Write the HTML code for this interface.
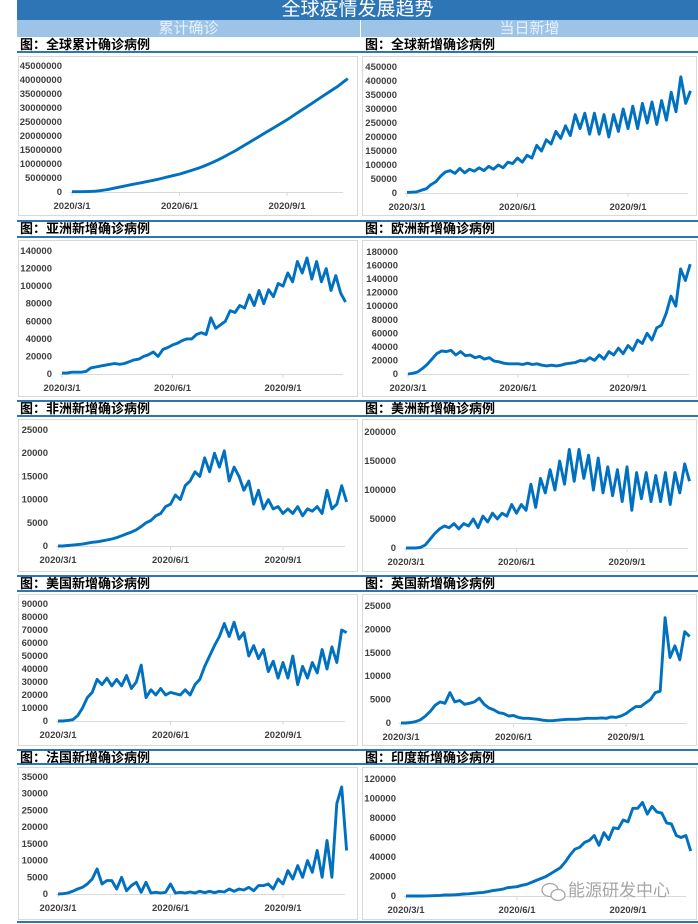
<!DOCTYPE html>
<html><head><meta charset="utf-8">
<style>
html,body{margin:0;padding:0;background:#fff;}
body{width:698px;height:924px;position:relative;overflow:hidden;font-family:"Liberation Sans","Noto Sans CJK SC",sans-serif;}
.abs{position:absolute;}
.hdr{left:17px;top:0;width:681px;height:20px;background:#2e75b6;color:#fff;font-size:19px;line-height:20px;text-align:center;font-family:"Liberation Sans","Noto Sans CJK SC",sans-serif;}
.sub{top:20px;height:17px;background:#9dc3e6;color:#e8f1fa;font-size:15px;line-height:17px;text-align:center;}
.ttl{font-size:13px;font-weight:bold;color:#000;line-height:14px;font-family:"Liberation Sans","Noto Sans CJK SC",sans-serif;}
.bl{left:17px;width:681px;height:2px;background:#2e75b6;}
.panel{border:1px solid #d9d9d9;background:#fff;box-sizing:border-box;}
</style></head>
<body>
<div class="abs hdr">全球疫情发展趋势</div>
<div class="abs sub" style="left:17px;width:343px;">累计确诊</div>
<div class="abs sub" style="left:361px;width:337px;">当日新增</div>

<div class="abs bl" style="top:51px"></div>
<div class="abs bl" style="top:220px"></div>
<div class="abs bl" style="top:236px"></div>
<div class="abs bl" style="top:400px"></div>
<div class="abs bl" style="top:415px"></div>
<div class="abs bl" style="top:575px"></div>
<div class="abs bl" style="top:590px"></div>
<div class="abs bl" style="top:749px"></div>
<div class="abs bl" style="top:763px"></div>
<div class="abs bl" style="top:921px"></div>

<div class="abs ttl" style="left:20px;top:38px">图：全球累计确诊病例</div>
<div class="abs ttl" style="left:365px;top:38px">图：全球新增确诊病例</div>
<div class="abs ttl" style="left:20px;top:222px">图：亚洲新增确诊病例</div>
<div class="abs ttl" style="left:365px;top:222px">图：欧洲新增确诊病例</div>
<div class="abs ttl" style="left:20px;top:402px">图：非洲新增确诊病例</div>
<div class="abs ttl" style="left:365px;top:402px">图：美洲新增确诊病例</div>
<div class="abs ttl" style="left:20px;top:577px">图：美国新增确诊病例</div>
<div class="abs ttl" style="left:365px;top:577px">图：英国新增确诊病例</div>
<div class="abs ttl" style="left:20px;top:751px">图：法国新增确诊病例</div>
<div class="abs ttl" style="left:365px;top:751px">图：印度新增确诊病例</div>

<div class="abs panel" style="left:18px;top:56px;width:340px;height:160px"></div>
<div class="abs panel" style="left:362px;top:56px;width:335px;height:160px"></div>
<div class="abs panel" style="left:18px;top:240px;width:340px;height:157px"></div>
<div class="abs panel" style="left:362px;top:240px;width:335px;height:157px"></div>
<div class="abs panel" style="left:18px;top:419px;width:340px;height:153px"></div>
<div class="abs panel" style="left:362px;top:419px;width:335px;height:153px"></div>
<div class="abs panel" style="left:18px;top:594px;width:340px;height:152px"></div>
<div class="abs panel" style="left:362px;top:594px;width:335px;height:152px"></div>
<div class="abs panel" style="left:18px;top:767px;width:340px;height:153px"></div>
<div class="abs panel" style="left:362px;top:767px;width:335px;height:153px"></div>

<svg id="charts" class="abs" style="left:0;top:0" width="698" height="924"></svg>

<div class="abs" style="left:540px;top:880px;color:#a6a6a6;font-size:17px;line-height:22px;font-family:'Liberation Sans','Noto Sans CJK SC',sans-serif;">
<svg width="28" height="22" style="vertical-align:middle"><ellipse cx="10" cy="9" rx="8" ry="6.5" fill="none" stroke="#a6a6a6" stroke-width="1.3"/><ellipse cx="18" cy="14" rx="7" ry="5.5" fill="#fff" stroke="#a6a6a6" stroke-width="1.3"/></svg>能源研发中心</div>

<script>
// Dates: sampled every 4 days starting 2020/3/1 (day 0)
const stepDays = 4;
const xTickLabels = ["2020/3/1","2020/6/1","2020/9/1"];
const xTickDays = [0, 92, 184];

// Values (global cumulative in millions, others in thousands)
const globalCumulative = [0.09,0.1,0.12,0.15,0.2,0.3,0.47,0.72,1.0,1.35,1.7,2.05,2.4,2.75,3.05,3.35,3.7,4.05,4.4,4.8,5.2,5.6,6.0,6.4,6.9,7.4,7.95,8.5,9.1,9.8,10.5,11.3,12.1,13.0,13.9,14.8,15.8,16.8,17.8,18.8,19.8,20.8,21.8,22.8,23.8,24.8,25.8,26.9,28.0,29.1,30.2,31.3,32.4,33.5,34.6,35.7,36.8,37.9,39.2,40.5];
const globalDaily = [2,3,4,10,15,30,40,60,75,80,70,88,72,85,78,90,80,95,85,100,90,110,105,125,110,135,125,170,150,190,175,220,195,240,205,280,230,285,210,285,210,280,200,280,220,300,230,310,230,320,250,325,245,330,260,360,290,415,320,365];
const asiaDaily = [1,1,2,2,2,3,7,8,9,10,11,12,11,12,14,16,17,20,22,25,20,28,30,33,35,38,40,40,45,47,45,64,52,56,60,72,70,78,75,90,78,95,80,96,88,103,100,115,105,128,115,132,108,128,105,120,95,112,92,82];
const europeDaily = [0,1,3,8,14,22,30,34,33,35,28,33,27,28,24,26,22,24,19,18,16,15,15,15,14,16,14,15,13,12,13,12,13,15,16,17,20,19,24,20,28,22,33,28,38,30,42,35,50,45,60,50,68,72,90,115,100,155,138,162];
const africaDaily = [0,0,0.1,0.2,0.3,0.4,0.6,0.8,0.9,1.1,1.3,1.5,1.8,2.2,2.6,3,3.5,4.2,5,5.5,6.5,7,8.5,9,11,10,13,14,16,15,19,16,20,17,20.5,14,17,15,12,14,9,12,8,10,8,8.5,7,8,7,8.5,6.5,8,7.5,8.5,7,12,8,9,13,9.5];
const americasDaily = [0,0,0,1,5,15,25,33,38,35,42,33,42,38,50,35,55,45,60,50,60,55,75,60,75,65,110,70,120,95,135,100,150,110,170,115,170,120,160,100,155,95,140,90,135,80,140,65,130,85,130,80,125,80,130,75,130,95,145,115];
const usaDaily = [0,0,0.5,1,4,10,18,22,32,28,33,27,32,27,35,25,30,43,18,24,20,25,20,22,21,20,24,20,28,32,42,50,58,65,75,65,76,63,68,50,58,48,55,38,46,33,45,33,50,28,42,33,45,37,55,40,57,45,70,68];
const ukDaily = [0,0,0.1,0.3,0.7,1.5,2.5,3.8,4.5,4.2,6.5,4.5,4.8,4,4.2,4.5,5.3,4,3.2,2.8,2.2,2,1.5,1.6,1.2,1,1,0.9,0.8,0.6,0.5,0.5,0.6,0.7,0.8,0.8,0.8,0.9,1,1,1,1.1,1,1.3,1.2,1.5,2,2.8,3.5,3.5,4.3,5,6.5,6.8,22.5,14,16.5,13.5,19.5,18.5];
const franceDaily = [0,0.1,0.3,0.8,1.5,2,3,4.5,7.5,3,4,4,1.5,5,1,2.5,3.5,0.5,3.5,0.3,0.5,0.3,0.5,3,0.3,0.5,0.3,0.6,0.3,0.8,0.4,0.8,0.4,0.8,0.6,1.5,0.8,1.5,1.2,2,1,2.5,2.5,3,1.5,4.5,3,7,4.5,8.5,5,10,6.5,13,5,16,5,27,32,13];
const indiaDaily = [0,0,0,0,0.1,0.2,0.4,0.6,1,1,1.2,1.5,2,2.3,2.8,3.3,3.7,4.5,5.5,6.3,7,8.5,9,9.5,11,12,14,16,18,20,23,26,29,35,42,48,50,55,57,62,52,65,58,70,69,78,76,90,90,96,84,92,86,85,75,74,62,60,62,46];

// Y tick labels
const ticksGlobalCum = ["0","5000000","10000000","15000000","20000000","25000000","30000000","35000000","40000000","45000000"];
const ticksGlobalDaily = ["0","50000","100000","150000","200000","250000","300000","350000","400000","450000"];
const ticksAsia = ["0","20000","40000","60000","80000","100000","120000","140000"];
const ticksEurope = ["0","20000","40000","60000","80000","100000","120000","140000","160000","180000"];
const ticksAfrica = ["0","5000","10000","15000","20000","25000"];
const ticksAmericas = ["0","50000","100000","150000","200000"];
const ticksUsa = ["0","10000","20000","30000","40000","50000","60000","70000","80000","90000"];
const ticksUk = ["0","5000","10000","15000","20000","25000"];
const ticksFrance = ["0","5000","10000","15000","20000","25000","30000","35000"];
const ticksIndia = ["0","20000","40000","60000","80000","100000","120000"];

// Layout (pixel geometry only)
const charts = [
 {name:'global-cumulative', data:globalCumulative, unit:1e6, ticks:ticksGlobalCum, x0:72, x9:287, xe:343, y0:192, yt:66},
 {name:'global-daily', data:globalDaily, unit:1e3, ticks:ticksGlobalDaily, x0:407, x9:628, xe:688, y0:193, yt:67},
 {name:'asia', data:asiaDaily, unit:1e3, ticks:ticksAsia, x0:62, x9:283, xe:343, y0:374, yt:251},
 {name:'europe', data:europeDaily, unit:1e3, ticks:ticksEurope, x0:408, x9:628, xe:689, y0:374, yt:252},
 {name:'africa', data:africaDaily, unit:1e3, ticks:ticksAfrica, x0:58, x9:283, xe:345, y0:546, yt:430},
 {name:'americas', data:americasDaily, unit:1e3, ticks:ticksAmericas, x0:406, x9:627, xe:688, y0:548, yt:432},
 {name:'usa', data:usaDaily, unit:1e3, ticks:ticksUsa, x0:58, x9:283, xe:345, y0:721, yt:604},
 {name:'uk', data:ukDaily, unit:1e3, ticks:ticksUk, x0:401, x9:626, xe:687, y0:723, yt:606},
 {name:'france', data:franceDaily, unit:1e3, ticks:ticksFrance, x0:58, x9:283, xe:345, y0:894, yt:777},
 {name:'india', data:indiaDaily, unit:1e3, ticks:ticksIndia, x0:406, x9:628, xe:686, y0:896, yt:779}
];

const NS = 'http://www.w3.org/2000/svg';
const svg = document.getElementById('charts');
function mk(tag, attrs, parent){
  const e = document.createElementNS(NS, tag);
  for (const k in attrs) e.setAttribute(k, attrs[k]);
  parent.appendChild(e);
  return e;
}
charts.forEach(c => {
  const g = mk('g', {}, svg);
  
  
  const xScale = d => c.x0 + d * (c.x9 - c.x0) / 184;
  const maxVal = parseFloat(c.ticks[c.ticks.length-1]);
  const yScale = v => c.y0 - (v * c.unit) / maxVal * (c.y0 - c.yt);
  const ax = mk('line', {x1:c.x0-2, x2:c.xe, y1:c.y0+0.5, y2:c.y0+0.5, stroke:'#d9d9d9', 'stroke-width':1}, g);
  
  
  xTickDays.forEach((d, i) => {
    const x = xScale(d);
    const tk = mk('line', {x1:x, x2:x, y1:c.y0, y2:c.y0+4, stroke:'#d9d9d9', 'stroke-width':1}, g);
    
    
    const t = mk('text', {x:x, y:c.y0+17, 'text-anchor':'middle', 'font-size':'9.5', 'font-weight':'bold', fill:'#404040', 'font-family':'Liberation Sans, sans-serif'}, g);
    t.textContent = xTickLabels[i];
    
    
  });
  c.ticks.forEach((lab, i) => {
    const y = yScale(parseFloat(lab) / c.unit);
    const t = mk('text', {x:c.x0-10, y:y+3, 'text-anchor':'end', 'font-size':'9.5', 'font-weight':'bold', fill:'#404040', 'font-family':'Liberation Sans, sans-serif'}, g);
    t.textContent = lab;
    
    
  });
  const pts = c.data.map((v, i) => xScale(i*stepDays).toFixed(1) + ',' + yScale(v).toFixed(1)).join(' ');
  const pl = mk('polyline', {points:pts, fill:'none', stroke:'#0070c0', 'stroke-width':2.9, 'stroke-linejoin':'round'}, g);
  
  
});
</script>
</body></html>
